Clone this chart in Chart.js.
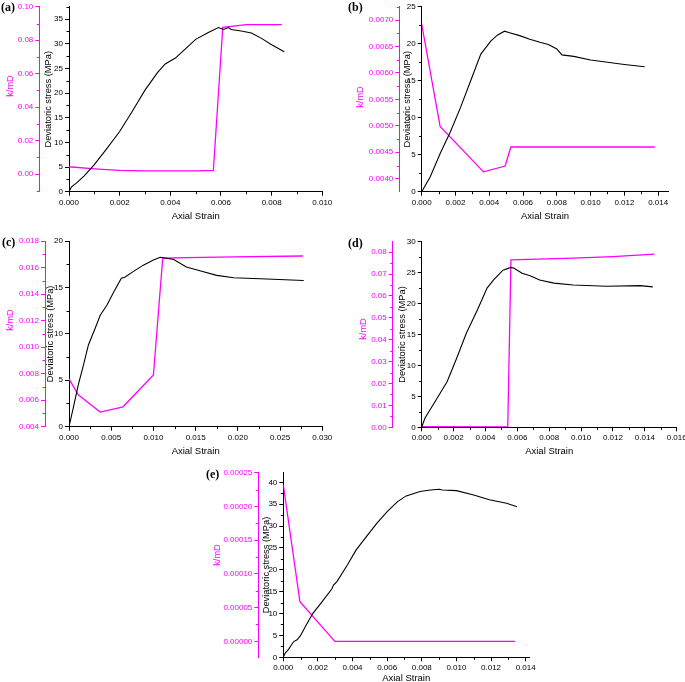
<!DOCTYPE html>
<html>
<head>
<meta charset="utf-8">
<script src="https://cdn.jsdelivr.net/npm/chart.js@4.4.1/dist/chart.umd.min.js"></script>
<style>
  html, body { margin: 0; padding: 0; background: #fff; overflow: hidden; }
  body { width: 685px; height: 682px; position: relative; }
  canvas { position: absolute; }
  .tag { position: absolute; font: bold 12px "Liberation Serif", "Times New Roman", serif; line-height: 12px; color: #000; }
  .ktitle { position: absolute; font: 9.3px "Liberation Sans", Arial, sans-serif; color: #ff00ff; white-space: nowrap;
            transform: translate(-50%, -50%) rotate(-90deg); }
</style>
</head>
<body>
<script>
// ---- (a) ----
const strainSA = [0, 0.0001, 0.0003, 0.0006, 0.001, 0.0015, 0.002, 0.0025, 0.003, 0.0035, 0.0038, 0.0042, 0.0045, 0.005, 0.0055, 0.0059, 0.0061, 0.0063, 0.0064, 0.0068, 0.0072, 0.0076, 0.008, 0.0085];
const stressA  = [0, 1.0, 1.8, 3.2, 5.5, 8.8, 12.2, 16.3, 20.6, 24.2, 25.9, 27.1, 28.5, 30.9, 32.3, 33.3, 32.9, 33.3, 32.9, 32.6, 32.2, 31.1, 29.8, 28.4];
const strainKA = [0, 0.001, 0.002, 0.003, 0.004, 0.005, 0.0057, 0.00607, 0.007, 0.0084];
const permA    = [0.0044, 0.0032, 0.0022, 0.0020, 0.0019, 0.0020, 0.0022, 0.0877, 0.0893, 0.0894];
const xTicksA = ['0.000', '0.002', '0.004', '0.006', '0.008', '0.010'];
const sTicksA = ['0', '5', '10', '15', '20', '25', '30', '35'];
const kTicksA = ['0.00', '0.02', '0.04', '0.06', '0.08', '0.10'];

// ---- (b) ----
const strainSB = [0, 0.0005, 0.0011, 0.0017, 0.0023, 0.0029, 0.0035, 0.0041, 0.0045, 0.0049, 0.0052, 0.0058, 0.0064, 0.007, 0.0075, 0.008, 0.0083, 0.009, 0.01, 0.011, 0.012, 0.0132];
const stressB  = [0, 2.0, 5.2, 8.1, 11.4, 15.0, 18.6, 20.4, 21.2, 21.7, 21.5, 21.1, 20.6, 20.2, 19.9, 19.3, 18.5, 18.3, 17.8, 17.5, 17.2, 16.9];
const strainKB = [0, 0.00109, 0.00366, 0.00494, 0.00528, 0.0138];
const permB    = [0.00692, 0.00499, 0.00413, 0.00424, 0.0046, 0.0046];
const xTicksB = ['0.000', '0.002', '0.004', '0.006', '0.008', '0.010', '0.012', '0.014'];
const sTicksB = ['0', '5', '10', '15', '20', '25'];
const kTicksB = ['0.0040', '0.0045', '0.0050', '0.0055', '0.0060', '0.0065', '0.0070'];

// ---- (c) ----
const strainSC = [0, 0.0005, 0.0011, 0.0017, 0.0023, 0.0031, 0.0037, 0.0045, 0.0053, 0.0062, 0.0066, 0.0076, 0.0088, 0.01, 0.0108, 0.0112, 0.0124, 0.0139, 0.0155, 0.0175, 0.0195, 0.0234, 0.0278];
const stressC  = [0, 2.0, 4.5, 6.6, 8.8, 10.6, 12.0, 13.1, 14.5, 16.0, 16.1, 16.7, 17.4, 17.95, 18.25, 18.2, 18.0, 17.2, 16.8, 16.3, 16.05, 15.9, 15.75];
const strainKC = [0, 0.0011, 0.0021, 0.0037, 0.0064, 0.01, 0.0111, 0.014, 0.0195, 0.0277];
const permC    = [0.0076, 0.0064, 0.0059, 0.0051, 0.0055, 0.0079, 0.0167, 0.01675, 0.0168, 0.01687];
const xTicksC = ['0.000', '0.005', '0.010', '0.015', '0.020', '0.025', '0.030'];
const sTicksC = ['0', '5', '10', '15', '20'];
const kTicksC = ['0.004', '0.006', '0.008', '0.010', '0.012', '0.014', '0.016', '0.018'];

// ---- (d) ----
const strainSD = [0, 0.0002, 0.0004, 0.0009, 0.0016, 0.0022, 0.0028, 0.0035, 0.0041, 0.0045, 0.0051, 0.0056, 0.0058, 0.0063, 0.0068, 0.0074, 0.0083, 0.0095, 0.0116, 0.0137, 0.0145];
const stressD  = [0, 1.45, 2.3, 4.4, 7.4, 11.2, 15.2, 19.0, 22.5, 23.8, 25.4, 25.85, 25.7, 24.9, 24.5, 23.8, 23.3, 23.0, 22.8, 22.9, 22.7];
const strainKD = [0, 0.0054, 0.0056, 0.0095, 0.012, 0.0146];
const permD    = [0.0003, 0.0002, 0.0765, 0.0773, 0.078, 0.0791];
const xTicksD = ['0.000', '0.002', '0.004', '0.006', '0.008', '0.010', '0.012', '0.014', '0.016'];
const sTicksD = ['0', '5', '10', '15', '20', '25', '30'];
const kTicksD = ['0.00', '0.01', '0.02', '0.03', '0.04', '0.05', '0.06', '0.07', '0.08'];

// ---- (e) ----
const strainSE = [0, 0.0001, 0.0003, 0.0006, 0.0008, 0.001, 0.0013, 0.0017, 0.0022, 0.0028, 0.0029, 0.0031, 0.0037, 0.0042, 0.0048, 0.0054, 0.006, 0.0066, 0.0071, 0.0079, 0.0085, 0.009, 0.0092, 0.01, 0.011, 0.0119, 0.0129, 0.0135];
const stressE  = [0, 0.9, 1.8, 3.6, 4.0, 5.0, 7.2, 10.0, 12.5, 15.6, 16.5, 17.3, 21.1, 24.5, 27.6, 30.6, 33.3, 35.6, 36.9, 37.9, 38.25, 38.4, 38.25, 38.1, 37.1, 36.0, 35.2, 34.4];
const strainKE = [0, 0.00096, 0.00298, 0.01338];
const permE    = [0.000232, 0.0000588, 0, 0];
const xTicksE = ['0.000', '0.002', '0.004', '0.006', '0.008', '0.010', '0.012', '0.014'];
const sTicksE = ['0', '5', '10', '15', '20', '25', '30', '35', '40'];
const kTicksE = ['0.00000', '0.00005', '0.00010', '0.00015', '0.00020', '0.00025'];

const MAGENTA = '#ff00ff';
const FAMILY = "'Liberation Sans', Arial, sans-serif";

// layout of each panel in page pixels: canvas box, plot area, k-axis line x
const panels = [
  { tag: 'a', tagPos: [1, 1], box: [0, 0, 340, 225], area: [69, 6, 322.3, 191.7], kAxis: 39.3, xH: 30,
    xMax: 0.010, sMax: 37.5, kMin: -0.0105, kMax: 0.10, sPad: 3.1, kTitle: [10, 86],
    xTicks: xTicksA, sTicks: sTicksA, kTicks: kTicksA, stress: [strainSA, stressA], perm: [strainKA, permA] },
  { tag: 'b', tagPos: [348, 1], box: [340, 0, 360, 225], area: [421.7, 6, 668.3, 191.7], kAxis: 399.3, xH: 30,
    xMax: 0.0146, sMax: 25, kMin: 0.003755, kMax: 0.00725, sPad: 2.1, kTitle: [360, 97],
    xTicks: xTicksB, sTicks: sTicksB, kTicks: kTicksB, stress: [strainSB, stressB], perm: [strainKB, permB] },
  { tag: 'c', tagPos: [2, 236], box: [0, 225, 340, 235], area: [69, 241, 322.3, 426.7], kAxis: 45, xH: 30,
    xMax: 0.030, sMax: 20, kMin: 0.004, kMax: 0.018, sPad: 0.2, kTitle: [10, 320],
    xTicks: xTicksC, sTicks: sTicksC, kTicks: kTicksC, stress: [strainSC, stressC], perm: [strainKC, permC] },
  { tag: 'd', tagPos: [348, 237], box: [340, 225, 360, 235], area: [421.7, 241.7, 676.7, 427.3], kAxis: 392.7, xH: 30,
    xMax: 0.016, sMax: 30, kMin: 0, kMax: 0.0848, sPad: 4, kTitle: [362.7, 329],
    xTicks: xTicksD, sTicks: sTicksD, kTicks: kTicksD, stress: [strainSD, stressD], perm: [strainKD, permD] },
  { tag: 'e', tagPos: [206, 468], box: [190, 450, 360, 232], area: [283.3, 472.7, 529.1, 657.3], kAxis: 258.3, xH: 27,
    xMax: 0.0142, sMax: 42.2, kMin: -0.0000237, kMax: 0.00025, sPad: 2.1, kTitle: [216.7, 555],
    xTicks: xTicksE, sTicks: sTicksE, kTicks: kTicksE, stress: [strainSE, stressE], perm: [strainKE, permE] }
];

function pts(pair) {
  return pair[0].map((x, i) => ({ x: x, y: pair[1][i] }));
}

function minorVals(labels, min, max) {
  const v = labels.map(Number);
  const step = v[1] - v[0];
  const out = [];
  for (let i = -1; i < v.length; i++) {
    const m = v[0] + (i + 0.5) * step;
    if (m >= min - 1e-12 && m <= max + 1e-12) out.push(m);
  }
  return out;
}

// short minor ticks, placed through each scale
function minorTicks(minors) {
  return {
    id: 'minorTicks',
    afterDraw(chart) {
      const ctx = chart.ctx;
      ctx.save();
      ctx.lineWidth = 1;
      Object.keys(minors).forEach(id => {
        const s = chart.scales[id];
        ctx.strokeStyle = minors[id].color;
        minors[id].values.forEach(v => {
          ctx.beginPath();
          if (s.isHorizontal()) {
            const px = Math.round(s.getPixelForValue(v)) + 0.5;
            ctx.moveTo(px, s.top);
            ctx.lineTo(px, s.top + 2.5);
          } else {
            const py = Math.round(s.getPixelForValue(v)) + 0.5;
            ctx.moveTo(s.right, py);
            ctx.lineTo(s.right - 2.5, py);
          }
          ctx.stroke();
        });
      });
      ctx.restore();
    }
  };
}

function axisY(labels, min, max, width, color, weight, title, titlePad) {
  return {
    type: 'linear', position: 'left', min: min, max: max, bounds: 'data', weight: weight,
    afterBuildTicks: s => { s.ticks = labels.map(t => ({ value: Number(t) })); },
    afterFit: s => { s.width = width; },
    ticks: { callback: (v, i) => labels[i], font: { family: FAMILY, size: 8 }, color: color, padding: 2, autoSkip: false },
    grid: { drawOnChartArea: false, tickLength: 4, color: color },
    border: { color: color, width: 1 },
    title: { display: !!title, text: title, font: { family: FAMILY, size: 9.3 }, color: '#000', padding: { top: titlePad, bottom: 0 } }
  };
}

panels.forEach(p => {
  const [bx, by, bw, bh] = p.box;
  const [al, at, ar, ab] = p.area;

  const cv = document.createElement('canvas');
  cv.width = bw;
  cv.height = bh;
  cv.style.left = bx + 'px';
  cv.style.top = by + 'px';
  document.body.appendChild(cv);

  const tag = document.createElement('div');
  tag.className = 'tag';
  tag.textContent = '(' + p.tag + ')';
  tag.style.left = p.tagPos[0] + 'px';
  tag.style.top = p.tagPos[1] + 'px';
  document.body.appendChild(tag);

  const kt = document.createElement('div');
  kt.className = 'ktitle';
  kt.textContent = 'k/mD';
  kt.style.left = p.kTitle[0] + 'px';
  kt.style.top = p.kTitle[1] + 'px';
  document.body.appendChild(kt);

  const xTicks = p.xTicks;
  new Chart(cv, {
    type: 'line',
    data: {
      datasets: [
        { data: pts(p.stress), yAxisID: 'yS', borderColor: '#000', borderWidth: 1.1, pointRadius: 0, tension: 0, fill: false },
        { data: pts(p.perm), yAxisID: 'yK', borderColor: MAGENTA, borderWidth: 1.3, pointRadius: 0, tension: 0, fill: false }
      ]
    },
    options: {
      responsive: false,
      animation: false,
      events: [],
      layout: { padding: { left: 0, top: at - by, right: bx + bw - ar, bottom: by + bh - ab - p.xH } },
      plugins: { legend: { display: false }, tooltip: { enabled: false } },
      scales: {
        x: {
          type: 'linear', position: 'bottom', min: 0, max: p.xMax, bounds: 'data',
          afterBuildTicks: s => { s.ticks = xTicks.map(t => ({ value: Number(t) })); },
          afterFit: s => { s.height = p.xH; },
          ticks: { callback: (v, i) => xTicks[i], font: { family: FAMILY, size: 8 }, color: '#000', padding: 2, autoSkip: false, maxRotation: 0, minRotation: 0 },
          grid: { drawOnChartArea: false, tickLength: 4, color: '#000' },
          border: { color: '#000', width: 1 },
          title: { display: true, text: 'Axial Strain', font: { family: FAMILY, size: 9.5 }, color: '#000', padding: 0 }
        },
        yS: axisY(p.sTicks, 0, p.sMax, al - p.kAxis, '#000', 0, 'Deviatoric stress (MPa)', p.sPad),
        yK: axisY(p.kTicks, p.kMin, p.kMax, p.kAxis - bx, MAGENTA, 1, '', 0)
      }
    },
    plugins: [minorTicks({
      x: { color: '#000', values: minorVals(xTicks, 0, p.xMax) },
      yS: { color: '#000', values: minorVals(p.sTicks, 0, p.sMax) },
      yK: { color: MAGENTA, values: minorVals(p.kTicks, p.kMin, p.kMax) }
    })]
  });
});
</script>
</body>
</html>
